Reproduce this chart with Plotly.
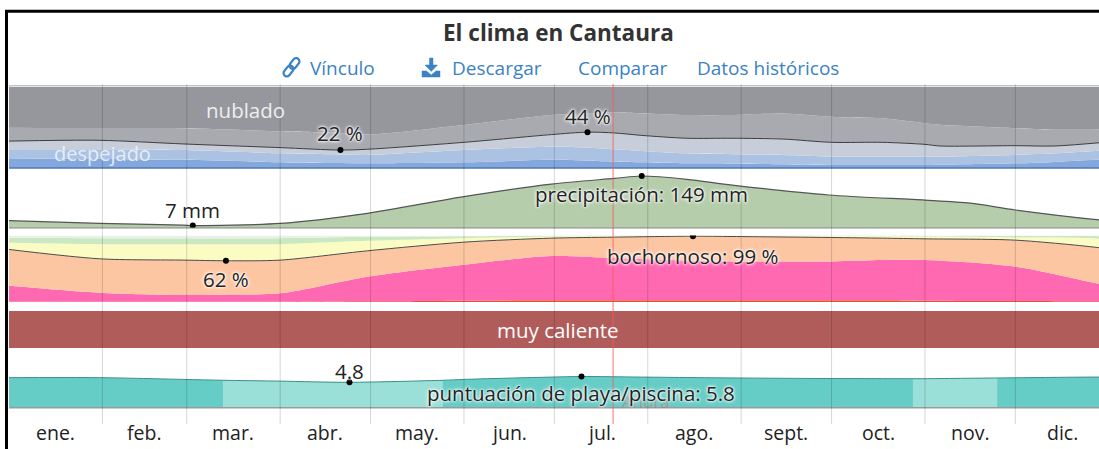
import math
import plotly.graph_objects as go

# ---------------- data ----------------
months = ["ene.", "feb.", "mar.", "abr.", "may.", "jun.", "jul.", "ago.", "sept.", "oct.", "nov.", "dic."]
month_start_days = [0, 31, 59, 90, 120, 151, 181, 212, 243, 273, 304, 334, 365]
now_day = 200.5

# cloud cover: cumulative % from the bottom (clear, mostly clear, partly cloudy, mostly cloudy)
cloud_days = [0, 30, 58, 90, 110, 119, 151, 180, 192, 201, 210, 225, 240, 257, 273, 290, 304, 309, 334, 347, 365]
cloud_clear = [12, 11, 10, 7, 6, 5.7, 7, 10, 9, 8, 7, 5.7, 5.5, 4.5, 3.7, 3.7, 3.7, 4, 5.7, 7.5, 11]
cloud_mostly_clear = [23, 23, 22, 18, 16.5, 16, 22, 26, 25, 23, 21, 18, 17, 16, 14, 14, 14, 14, 16, 18, 22]
cloud_partly = [33, 34, 29.5, 25, 22, 23, 31.5, 41, 44, 43, 40, 36.5, 36.5, 35.5, 31.5, 31.5, 29, 27, 27.4, 27, 32]
cloud_mostly_cloudy = [49.5, 49, 48.7, 45, 43, 41, 52.8, 65, 67, 68, 67, 65, 65, 67, 63, 61, 55, 53, 48.7, 47, 47.5]

# precipitation (mm)
precip_days = [0, 30, 58, 61, 90, 119, 151, 180, 201, 210, 225, 240, 272, 304, 319, 334, 362, 365]
precip_mm = [21, 13.5, 8, 7, 13, 42, 90, 126, 142, 149, 139.5, 123, 94.5, 80, 71, 51.6, 23, 21]

# humidity comfort: cumulative % from the bottom
hum_days = [0, 30, 58, 72, 90, 119, 151, 180, 201, 227, 240, 273, 290, 304, 334, 362, 365]
hum_miserable = [0.8, 0.5, 0.5, 0.5, 0.5, 1, 2, 2.5, 2.5, 2.5, 2.5, 2.5, 2.5, 2, 1.5, 1, 0.8]
hum_oppressive = [24.5, 14, 10.5, 11, 13, 38, 56, 69, 66, 62, 61, 61, 63, 63, 53, 27, 25]
hum_muggy = [79, 65, 63, 62, 63, 77, 90, 96, 97.5, 99, 98.5, 97, 96, 95, 93, 81.5, 79]
hum_humid = [89, 87, 87, 87, 87, 92, 96, 98.5, 99.3, 99.7, 99.5, 99.3, 99, 98.5, 97, 95, 92]
hum_comfortable = [97, 96, 96, 96, 96, 98, 99, 99.7, 100, 100, 100, 100, 100, 99.8, 99.5, 99, 98]

# temperature category
temp_days = [0, 365]
temp_level = [1, 1]
temp_label = "muy caliente"

# beach / pool score
beach_days = [0, 30, 58, 71, 90, 113, 144, 151, 180, 190, 210, 240, 273, 300, 304, 328, 334, 362, 365]
beach_score = [5.6, 5.6, 5.3, 5.15, 5.0, 4.8, 5.15, 5.3, 5.7, 5.8, 5.7, 5.55, 5.45, 5.42, 5.42, 5.55, 5.58, 5.7, 5.65]
beach_light_segments = [(71, 144), (300, 328)]

# ---------------- layout helpers ----------------
W, H = 1099, 449
ML, MR, MT, MB = 9, 0, 84, 25
PW, PH = W - ML - MR, H - MT - MB
FONT = "Open Sans"
LBL = 20.5


def fx(x):
    return (x - ML) / PW


def fy(y):
    return (MT + PH - y) / PH


def dom(top, bottom):
    return [fy(bottom), fy(top)]


fig = go.Figure()
SP = dict(shape="spline", smoothing=0.8)


def band(xs, ys, color, fill, axis):
    fig.add_trace(go.Scatter(x=xs, y=ys, mode="lines", fill=fill, fillcolor=color,
                             line=dict(width=0, color=color, **SP), yaxis=axis,
                             hoverinfo="skip"))


# cloud panel
band(cloud_days, cloud_clear, "#84a8de", "tozeroy", "y")
band(cloud_days, cloud_mostly_clear, "#abc2e2", "tonexty", "y")
band(cloud_days, cloud_partly, "#c7ceda", "tonexty", "y")
band(cloud_days, cloud_mostly_cloudy, "#a8aab0", "tonexty", "y")
band(cloud_days, [100] * len(cloud_days), "#95979c", "tonexty", "y")
fig.add_trace(go.Scatter(x=cloud_days, y=cloud_partly, mode="lines",
                         line=dict(color="#3c3c3c", width=1, **SP), yaxis="y"))

# precipitation
fig.add_trace(go.Scatter(x=precip_days, y=precip_mm, mode="lines", fill="tozeroy",
                         fillcolor="#b5cdaa", line=dict(color="#555555", width=1.2, **SP),
                         yaxis="y2"))

# humidity
band(hum_days, hum_miserable, "#e2573a", "tozeroy", "y3")
band(hum_days, hum_oppressive, "#ff69b1", "tonexty", "y3")
band(hum_days, hum_muggy, "#fdc6a3", "tonexty", "y3")
band(hum_days, hum_humid, "#fbfcc4", "tonexty", "y3")
band(hum_days, hum_comfortable, "#cbe9c0", "tonexty", "y3")
band(hum_days, [100] * len(hum_days), "#e9f0ec", "tonexty", "y3")
fig.add_trace(go.Scatter(x=hum_days, y=hum_muggy, mode="lines",
                         line=dict(color="#4a4a4a", width=1, **SP), yaxis="y3"))

# temperature
fig.add_trace(go.Scatter(x=temp_days, y=temp_level, mode="lines", fill="tozeroy",
                         fillcolor="#b05c5a", line=dict(width=0, color="#b05c5a"), yaxis="y4"))

# beach score
fig.add_trace(go.Scatter(x=beach_days, y=beach_score, mode="lines", fill="tozeroy",
                         fillcolor="#66cdc6", line=dict(width=0, color="#66cdc6", **SP),
                         yaxis="y5"))
for a, b in beach_light_segments:
    xs = [d for d in beach_days if a <= d <= b]
    ys = [s for d, s in zip(beach_days, beach_score) if a <= d <= b]
    fig.add_trace(go.Scatter(x=xs, y=ys, mode="lines", fill="tozeroy", fillcolor="#9bdfd9",
                             line=dict(width=0, color="#9bdfd9", **SP), yaxis="y5"))
fig.add_trace(go.Scatter(x=beach_days, y=beach_score, mode="lines",
                         line=dict(color="#3f8f89", width=1, **SP), yaxis="y5"))

# extreme points
i_cmin = cloud_partly.index(min(cloud_partly))
i_cmax = cloud_partly.index(max(cloud_partly))
i_pmin = precip_mm.index(min(precip_mm))
i_pmax = precip_mm.index(max(precip_mm))
i_hmin = hum_muggy.index(min(hum_muggy))
i_hmax = hum_muggy.index(max(hum_muggy))
i_bmin = beach_score.index(min(beach_score))
i_bmax = beach_score.index(max(beach_score))

dot = dict(color="black", size=6)
fig.add_trace(go.Scatter(x=[cloud_days[i_cmin], cloud_days[i_cmax]],
                         y=[cloud_partly[i_cmin], cloud_partly[i_cmax]],
                         mode="markers", marker=dot, yaxis="y"))
fig.add_trace(go.Scatter(x=[precip_days[i_pmin], precip_days[i_pmax]],
                         y=[precip_mm[i_pmin], precip_mm[i_pmax]],
                         mode="markers", marker=dot, yaxis="y2"))
fig.add_trace(go.Scatter(x=[hum_days[i_hmin], hum_days[i_hmax]],
                         y=[hum_muggy[i_hmin], hum_muggy[i_hmax]],
                         mode="markers", marker=dot, yaxis="y3"))
fig.add_trace(go.Scatter(x=[beach_days[i_bmin], beach_days[i_bmax]],
                         y=[beach_score[i_bmin], beach_score[i_bmax]],
                         mode="markers", marker=dot, yaxis="y5"))

# axes
hidden = dict(visible=False, fixedrange=True)
precip_top = (228 - 170) / 0.349
beach_lo = 4.8 - (407.7 - 382.3) / 5.8
beach_hi = 4.8 + (382.3 - 354) / 5.8
fig.update_layout(
    width=W, height=H, margin=dict(l=ML, r=MR, t=MT, b=MB),
    paper_bgcolor="white", plot_bgcolor="white", showlegend=False,
    font=dict(family=FONT),
    xaxis=dict(range=[0, (W - ML) / 3.013], **hidden),
    yaxis=dict(domain=dom(86.5, 168), range=[0, 100], **hidden),
    yaxis2=dict(domain=dom(170, 228), range=[0, precip_top], **hidden),
    yaxis3=dict(domain=dom(235.5, 302), range=[0, 100], **hidden),
    yaxis4=dict(domain=dom(311, 348), range=[0, 1], **hidden),
    yaxis5=dict(domain=dom(354, 407.7), range=[beach_lo, beach_hi], **hidden),
)

shapes = []
# panel edges
shapes.append(dict(type="line", xref="paper", yref="paper", x0=0, x1=1, y0=fy(85.5), y1=fy(85.5),
                   line=dict(color="#c4c4c4", width=1), layer="above"))
shapes.append(dict(type="line", xref="paper", yref="y domain", x0=0, x1=1, y0=0, y1=0,
                   line=dict(color="#5078b4", width=1.5), layer="above"))
shapes.append(dict(type="line", xref="paper", yref="y2 domain", x0=0, x1=1, y0=0, y1=0,
                   line=dict(color="#8a8a8a", width=1), layer="above"))
shapes.append(dict(type="line", xref="paper", yref="y5 domain", x0=0, x1=1, y0=0, y1=0,
                   line=dict(color="#9a9a9a", width=1.5), layer="above"))
# month grid
for d in month_start_days[1:-1]:
    shapes.append(dict(type="line", xref="x", yref="paper", x0=d, x1=d, y0=0, y1=1,
                       line=dict(color="rgba(0,0,0,0.16)", width=1), layer="above"))
# now line
shapes.append(dict(type="line", xref="x", yref="paper", x0=now_day, x1=now_day, y0=0, y1=1,
                   line=dict(color="rgba(245,90,90,0.7)", width=1.2), layer="above"))
# outer frame
shapes.append(dict(type="rect", xref="paper", yref="paper", x0=fx(6.5), x1=fx(1112),
                   y0=fy(470), y1=fy(11.2), line=dict(color="black", width=3), layer="above"))


def poly_path(pts):
    return "M " + " L ".join(f"{fx(x):.5f},{fy(y):.5f}" for x, y in pts) + " Z"


def capsule(cx, cy, length, width, ang):
    ux, uy = math.cos(ang), -math.sin(ang)
    vx, vy = -uy, ux
    r = width / 2
    h = length / 2 - r
    pts = []
    for end, sgn in ((h, 1), (-h, -1)):
        for k in range(9):
            t = -math.pi / 2 + math.pi * k / 8
            a = math.cos(t) * r * sgn
            b = math.sin(t) * r * sgn
            pts.append((cx + ux * (end + a) + vx * b, cy + uy * (end + a) + vy * b))
    return pts


LINK = "#3b82c4"
ang = math.radians(52)
for cx, cy in ((288.5, 71.0), (294.5, 63.5)):
    shapes.append(dict(type="path", xref="paper", yref="paper",
                       path=poly_path(capsule(cx, cy, 12, 6.5, ang)),
                       line=dict(color=LINK, width=2.2), layer="above"))
# download icon
shapes.append(dict(type="path", xref="paper", yref="paper",
                   path=poly_path([(429.5, 58), (433, 58), (433, 65), (437.5, 65), (431.2, 71.5),
                                   (425, 65), (429.5, 65)]),
                   fillcolor=LINK, line=dict(color=LINK, width=0.5), layer="above"))
shapes.append(dict(type="path", xref="paper", yref="paper",
                   path=poly_path([(422, 71), (426.5, 71), (431.2, 75), (436, 71), (440, 71),
                                   (440, 77), (422, 77)]),
                   fillcolor=LINK, line=dict(color=LINK, width=0.5), layer="above"))
fig.update_layout(shapes=shapes)

HALO = "0 0 2px white, 0 0 3px white, 0 0 4px white"
ann = []


def text_paper(x, y, s, size=LBL, color="#222", xanchor="center", shadow=None, **kw):
    f = dict(size=size, color=color, family=FONT)
    if shadow:
        f["shadow"] = shadow
    ann.append(dict(x=fx(x), y=fy(y), xref="paper", yref="paper", text=s, showarrow=False,
                    xanchor=xanchor, yanchor="middle", font=f, **kw))


def text_data(x, y, axis, s, yshift, size=LBL):
    ann.append(dict(x=x, y=y, xref="x", yref=axis, text=s, showarrow=False, xanchor="center",
                    yanchor="middle", yshift=yshift,
                    font=dict(size=size, color="#222", family=FONT, shadow=HALO)))


text_paper(558, 32, "<b>El clima en Cantaura</b>", size=22.5, color="#333")
text_paper(308, 68, "Vínculo", size=19, color=LINK, xanchor="left")
text_paper(450, 68, "Descargar", size=19, color=LINK, xanchor="left")
text_paper(576, 68, "Comparar", size=19, color=LINK, xanchor="left")
text_paper(695, 68, "Datos históricos", size=19, color=LINK, xanchor="left")
text_paper(245, 110, "nublado", size=20.5, color="#eeeeee")
text_paper(102, 153, "despejado", size=20, color="rgba(238,243,250,0.9)")
text_paper(558, 330, temp_label, color="white", size=20.5)
text_paper(620, 401, "Ahora", color="rgba(235,90,90,0.45)", size=17, xanchor="left")

text_data(cloud_days[i_cmin], cloud_partly[i_cmin], "y", f"{cloud_partly[i_cmin]:.0f} %", 17)
text_data(cloud_days[i_cmax], cloud_partly[i_cmax], "y", f"{cloud_partly[i_cmax]:.0f} %", 16)
text_data(precip_days[i_pmin], precip_mm[i_pmin], "y2", f"{precip_mm[i_pmin]:.0f} mm", 15.5)
text_data(precip_days[i_pmax], precip_mm[i_pmax], "y2",
          f"precipitación: {precip_mm[i_pmax]:.0f} mm", -18)
text_data(hum_days[i_hmin], hum_muggy[i_hmin], "y3", f"{hum_muggy[i_hmin]:.0f} %", -18)
text_data(hum_days[i_hmax], hum_muggy[i_hmax], "y3", f"bochornoso: {hum_muggy[i_hmax]:.0f} %", -20)
text_data(beach_days[i_bmin], beach_score[i_bmin], "y5", f"{beach_score[i_bmin]:.1f}", 11)
text_data(beach_days[i_bmax], beach_score[i_bmax], "y5",
          f"puntuación de playa/piscina: {beach_score[i_bmax]:.1f}", -16.5)

for i, m in enumerate(months):
    mid = (month_start_days[i] + month_start_days[i + 1]) / 2
    ann.append(dict(x=mid, y=fy(433), xref="x", yref="paper", text=m, showarrow=False,
                    xanchor="center", yanchor="middle",
                    font=dict(size=19.5, color="#222", family=FONT)))

fig.update_layout(annotations=ann)
fig.write_html("out.html", config={"displayModeBar": False},
               post_script="document.body.style.margin='0px';")
